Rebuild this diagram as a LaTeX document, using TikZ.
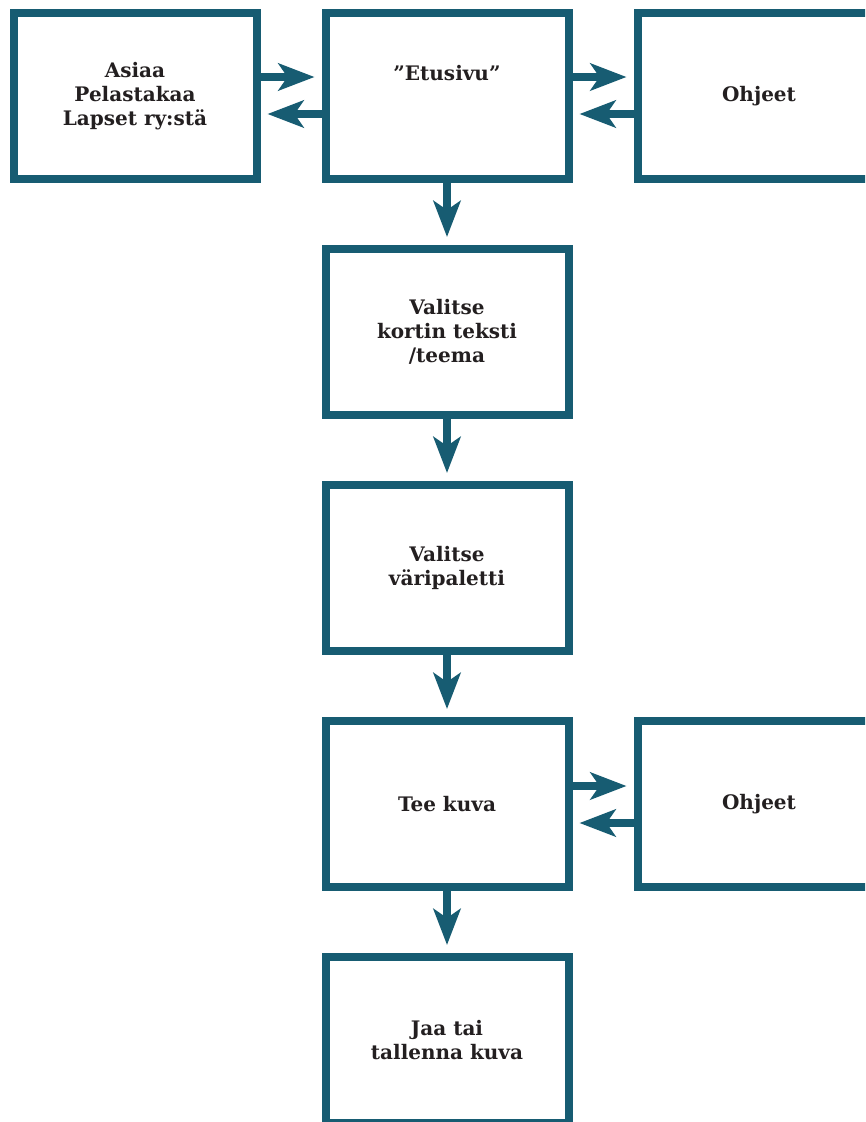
\documentclass[tikz,border=0pt]{standalone}
\usepackage{fontspec}
\setmainfont{DejaVu Serif}
\usetikzlibrary{arrows.meta}
\definecolor{frame}{RGB}{23,92,114}
\definecolor{ink}{RGB}{35,31,32}
\tikzset{
  box/.style={draw=frame, line width=8pt, minimum width=243pt, minimum height=166pt,
    inner sep=0pt, fill=white, align=center, text=ink,
    font=\fontsize{20}{24}\selectfont\bfseries},
  txt/.style={align=center, text=ink, inner sep=0pt, font=\fontsize{20}{24}\selectfont\bfseries},
  arr/.style={draw=frame, line width=8pt, -{Stealth[length=36pt,width=27pt,inset=9pt]}, shorten >=7pt},
}
\begin{document}
\begin{tikzpicture}[x=1pt,y=-1pt]
  \useasboundingbox (0,0) rectangle (865,1122);
  \clip (0,0) rectangle (865,1122);
  \fill[white] (0,0) rectangle (865,1122);

  % top row
  \node[box] (info) at (135,96) {Asiaa\\Pelastakaa\\Lapset ry:stä};
  \node[box] (home) at (447,96) {};
  \node[txt] (homet) at (447,73) {”Etusivu”};
  \node[box] (help1) at (759,96) {Ohjeet};

  % main column
  \node[box] (theme) at (447,332) {Valitse\\kortin teksti\\/teema};
  \node[box] (palette) at (447,568) {Valitse\\väripaletti};
  \node[box] (make) at (447,804) {Tee kuva};
  \node[box] (help2) at (759,804) {Ohjeet};
  \node[box] (share) at (447,1040) {Jaa tai\\tallenna kuva};

  % two-way links
  \draw[arr] ([yshift=19pt]info.east) -- ([yshift=19pt]home.west);
  \draw[arr] ([yshift=-18pt]home.west) -- ([yshift=-18pt]info.east);
  \draw[arr] ([yshift=19pt]home.east) -- ([yshift=19pt]help1.west);
  \draw[arr] ([yshift=-18pt]help1.west) -- ([yshift=-18pt]home.east);
  \draw[arr] ([yshift=18pt]make.east) -- ([yshift=18pt]help2.west);
  \draw[arr] ([yshift=-19pt]help2.west) -- ([yshift=-19pt]make.east);

  % downward flow
  \draw[arr, shorten >=8pt] (home.south) -- (theme.north);
  \draw[arr, shorten >=8pt] (theme.south) -- (palette.north);
  \draw[arr, shorten >=8pt] (palette.south) -- (make.north);
  \draw[arr, shorten >=8pt] (make.south) -- (share.north);
\end{tikzpicture}
\end{document}
